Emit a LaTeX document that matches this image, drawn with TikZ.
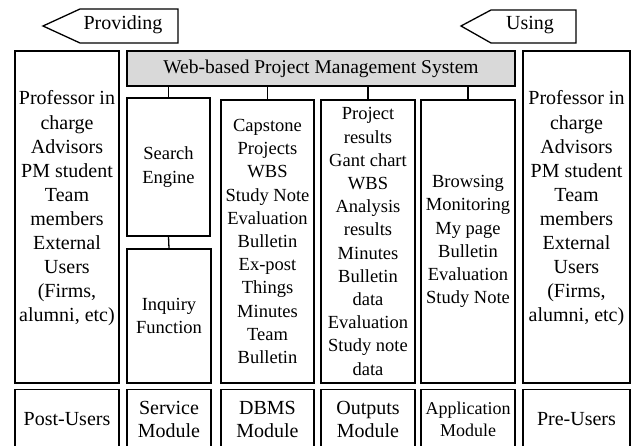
\documentclass[tikz,border=0pt]{standalone}
\usepackage{fontspec}
\setmainfont{Liberation Serif}
\usetikzlibrary{positioning}

\begin{document}
\begin{tikzpicture}[x=1pt, y=-1pt,
    cell/.style={draw, line width=1.3pt, anchor=center, align=center, inner sep=1pt},
    usertext/.style={align=center, font=\fontsize{20}{24.1}\selectfont},
    listtext/.style={font=\fontsize{18.5}{23.2}\selectfont},
    bottomtext/.style={font=\fontsize{20}{22.5}\selectfont}
]
    \useasboundingbox (0,0) rectangle (634,446);

    \draw[line width=1.3pt] (43,26) -- (80,9) -- (178,9) -- (178,43) -- (80,43) -- cycle;
    \node[font=\fontsize{20}{22}\selectfont] (providing) at (123,25) {Providing};
    \draw[line width=1.3pt] (461,26) -- (491,10) -- (576,10) -- (576,43) -- (491,43) -- cycle;
    \node[font=\fontsize{20}{22}\selectfont] (using) at (530,25) {Using};

    \node[cell, fill=black!15, minimum width=388pt, minimum height=35pt,
        font=\fontsize{19.5}{22}\selectfont] (wpms) at (321,68.5)
        {Web-based Project Management System};

    \node[cell, minimum width=104pt, minimum height=332pt] (post users) at (67,217) {};
    \node[usertext] (post users text) at ([yshift=8.5pt]post users.center)
        {Professor in\\charge\\Advisors\\PM student\\Team\\members\\External\\Users\\(Firms,\\alumni, etc)};
    \node[cell, minimum width=107pt, minimum height=332pt] (pre users) at (576.5,217) {};
    \node[usertext] (pre users text) at ([yshift=8.5pt]pre users.center)
        {Professor in\\charge\\Advisors\\PM student\\Team\\members\\External\\Users\\(Firms,\\alumni, etc)};

    \node[cell, listtext, minimum width=83pt, minimum height=138pt] (search) at (168.5,167)
        {Search\\Engine};
    \node[cell, listtext, minimum width=84pt, minimum height=134pt] (inquiry) at (169,316)
        {Inquiry\\Function};
    \node[cell, listtext, minimum width=93pt, minimum height=283pt] (dbms) at (267.5,241.5)
        {Capstone\\Projects\\WBS\\Study Note\\Evaluation\\Bulletin\\Ex-post\\Things\\Minutes\\Team\\Bulletin};
    \node[cell, listtext, minimum width=94pt, minimum height=283pt] (outputs) at (368,241.5)
        {Project\\results\\Gant chart\\WBS\\Analysis\\results\\Minutes\\Bulletin\\data\\Evaluation\\Study note\\data};
    \node[cell, listtext, minimum width=94pt, minimum height=283pt] (app) at (468,241.5)
        {Browsing\\Monitoring\\My page\\Bulletin\\Evaluation\\Study Note};

    \node[cell, bottomtext, minimum width=104pt, minimum height=60pt,
        below=5pt of post users] (post label) {Post-Users};
    \node[cell, bottomtext, minimum width=84pt, minimum height=60pt,
        below=5pt of inquiry] (service label) {Service\\Module};
    \node[cell, bottomtext, minimum width=93pt, minimum height=60pt,
        below=5pt of dbms] (dbms label) {DBMS\\Module};
    \node[cell, bottomtext, minimum width=94pt, minimum height=60pt,
        below=5pt of outputs] (outputs label) {Outputs\\Module};
    \node[cell, font=\fontsize{18}{22.5}\selectfont, minimum width=94pt, minimum height=60pt,
        below=5pt of app] (app label) {Application\\Module};
    \node[cell, bottomtext, minimum width=107pt, minimum height=60pt,
        below=5pt of pre users] (pre label) {Pre-Users};

    \foreach \m in {search,dbms,outputs,app}
        \draw[line width=1.3pt] (\m.north) -- (\m.north |- wpms.south);
    \draw[line width=1.3pt] (search.south) -- (inquiry.north);
\end{tikzpicture}
\end{document}
